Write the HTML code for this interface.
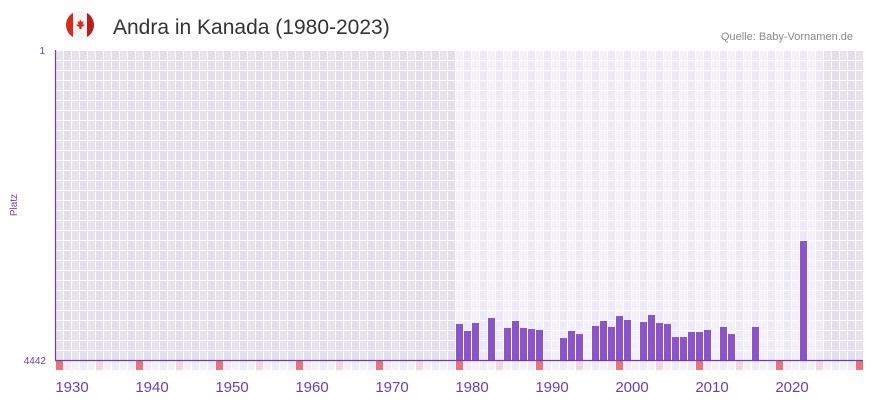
<!DOCTYPE html>
<html><head><meta charset="utf-8"><style>
body{margin:0;background:#fff;width:873px;height:402px;overflow:hidden;font-family:"Liberation Sans",sans-serif}
svg{display:block}
</style></head><body>
<svg id="chart" width="873" height="402" xmlns="http://www.w3.org/2000/svg">
<defs><clipPath id="fc"><circle cx="80" cy="25" r="14"/></clipPath></defs>
<g clip-path="url(#fc)">
<rect x="66" y="11" width="28" height="28" fill="#f4f4f4"/>
<rect x="66" y="11" width="7" height="28" fill="#d52b1e"/>
<rect x="87" y="11" width="7" height="28" fill="#b81f1a"/>
<path d="M80 19 l1.5 3 2-1 -1 4 2-1 -0.5 2 -2.5 1 0.3 2h-2.6l0.3-2 -2.5-1 -0.5-2 2 1 -1-4 2 1z" fill="#d52b1e"/>
</g>
<text x="113" y="34" font-size="21" fill="#333">Andra in Kanada (1980-2023)</text>
<text x="853" y="40" font-size="11" fill="#888" text-anchor="end">Quelle: Baby-Vornamen.de</text>
<text x="17" y="205" font-size="10" fill="#6a3fb0" text-anchor="middle" transform="rotate(-90 17 205)">Platz</text>
<g id="grid"></g><g id="bars"></g><g id="strip"></g><g id="xlabels"></g>
<line x1="55.5" y1="50" x2="55.5" y2="360" stroke="#6a3fb0" stroke-width="1.2"/>
<line x1="55" y1="360.5" x2="863" y2="360.5" stroke="#6a3fb0" stroke-width="1.2"/>
<text x="45" y="54" font-size="10" fill="#6a3fb0" text-anchor="end">1</text>
<text x="46" y="364" font-size="10" fill="#6a3fb0" text-anchor="end">4442</text>
</svg>
<script>
const years=[1978,1979,1980,1982,1984,1985,1986,1987,1988,1991,1992,1993,1995,1996,1997,1998,1999,2001,2002,2003,2004,2005,2006,2007,2008,2009,2011,2012,2015,2021];
const ranks=[3926,4026,3912,3840,3983,3883,3983,3998,4012,4127,4026,4070,3955,3883,3969,3812,3869,3898,3797,3912,3926,4113,4113,4041,4041,4012,3969,4070,3969,2737];
const xTicks=[1930,1940,1950,1960,1970,1980,1990,2000,2010,2020];
const minYear=1928,maxYear=2028,dataStart=1978,dataEnd=2023,maxRank=4442;
const NS="http://www.w3.org/2000/svg";
function xL(y){return 55+(y-minYear)*8;}
function yS(r){return 50+(r-1)/(maxRank-1)*310;}
function mk(tag,a,p){const e=document.createElementNS(NS,tag);for(const k in a)e.setAttribute(k,a[k]);p.appendChild(e);return e;}
const grid=document.getElementById('grid');
for(let y=minYear;y<=maxYear;y++){
  const inData=y>=dataStart&&y<=dataEnd;
  const c=inData?(y%2?'#ede9f7':'#f3f0fb'):(y%2?'#e2deec':'#e6e2ee');
  for(let r=0;r<31;r++){
    const e=mk('rect',{x:xL(y)+1,y:50+r*10+1,width:7,height:9,fill:c},grid);
    
    
  }
  let sc=y%10===8?'#e8737a':(y%10===3?'#f5d6e0':(y%2?'#efebf8':'#f4f1fb'));
  const s=mk('rect',{x:xL(y)+1,y:361,width:7,height:9,fill:sc},document.getElementById('strip'));
  
  
}
const bars=document.getElementById('bars');
years.forEach((y,i)=>{
  const top=yS(ranks[i]);
  const b=mk('rect',{x:xL(y)+1,y:top,width:7,height:360-top,fill:'#8b55c7'},bars);
  
  
});
const xl=document.getElementById('xlabels');
xTicks.forEach(t=>{
  const e=mk('text',{x:xL(t)+1,y:392,'font-size':15,fill:'#6a3fb0','text-anchor':'middle'},xl);
  e.textContent=t;
  
  
});
</script>
</body></html>
